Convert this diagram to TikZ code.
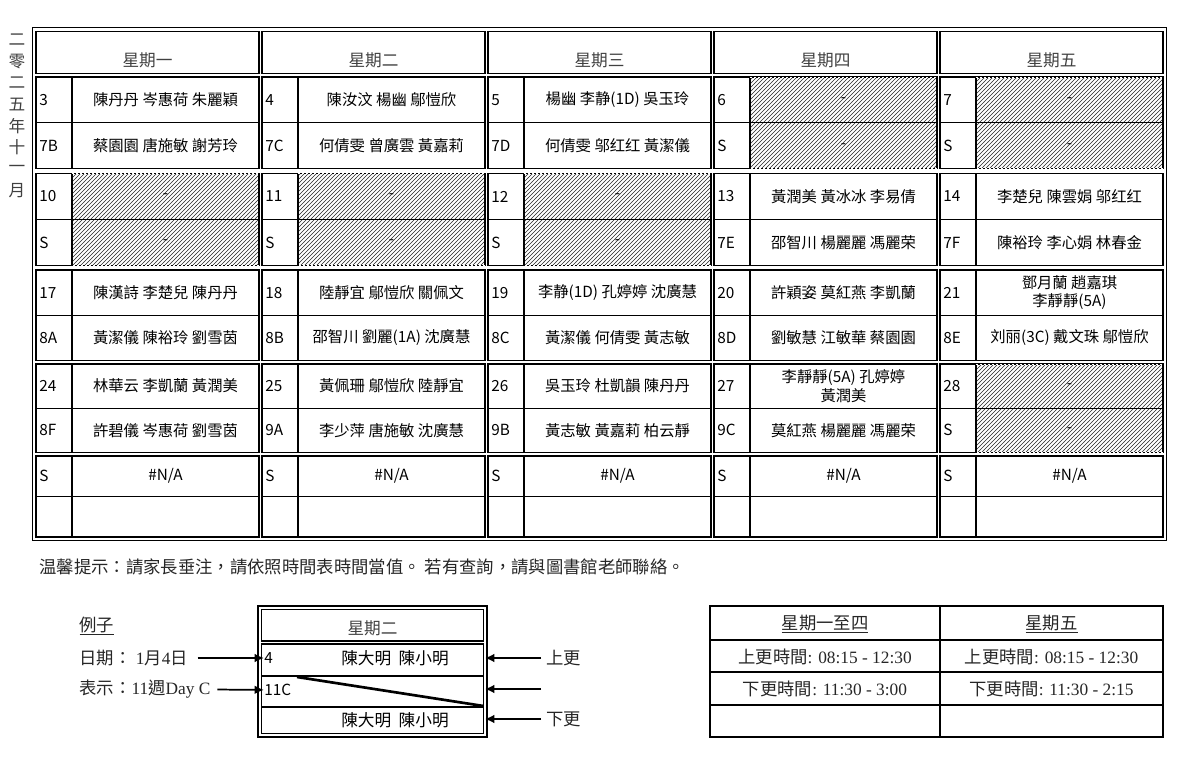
\documentclass[tikz,border=0pt]{standalone}
\usepackage{fontspec}
\setmainfont{Liberation Serif}
\newfontfamily\hei{Noto Sans CJK TC}
\usetikzlibrary{patterns,arrows.meta}

\tikzset{
  daybox/.style={line width=1.2pt},
  hatchbox/.style={pattern=north east lines, pattern color=black!85},
  numline/.style={line width=2.2pt},
  rowline/.style={line width=0.9pt},
  celltxt/.style={font=\hei\fontsize{11.5}{14}\selectfont, align=center, inner sep=0pt},
  numtxt/.style={font=\hei\fontsize{11.5}{14}\selectfont, anchor=west, inner sep=0pt},
  hdtxt/.style={font=\hei\fontsize{12.5}{15}\selectfont, text=black!75},
  lbl/.style={font=\fontsize{13}{15}\selectfont, anchor=west, inner sep=1pt, text=black!85},
  tmtxt/.style={font=\fontsize{13}{15}\selectfont, text=black!85},
  arr/.style={line width=1.3pt, -{Latex[length=7pt,width=6.5pt]}},
}
% top and height of each week block
\def\wtop{{77,173.5,270,364,456}}
\def\wht{{91.5,92,90.5,88.5,81}}

\begin{document}
\begin{tikzpicture}[x=0.75pt,y=-0.75pt]
 \useasboundingbox (0,0) rectangle (1200,762);

 % year and month, down the left side
 \foreach \c [count=\i] in {二,零,二,五,年,十,一,月}
   \node[hdtxt] (yr\i) at (17,18.5+21.5*\i) {\c};

 % hatched (no duty) cells
 \foreach \dy/\wk in {3/0,4/0,0/1,1/1,2/1,4/3}{
   \pgfmathsetmacro\yt{\wtop[\wk]}
   \pgfmathsetmacro\hh{\wht[\wk]}
   \fill[hatchbox] (72+226*\dy,\yt) rectangle ++(187,\hh);
 }

 % table frame
 \draw[line width=0.8pt] (32.5,27.5) rectangle (1166.5,540.5);
 \foreach \dy in {0,...,4}{
   \draw[daybox] (36+226*\dy,31.5) rectangle ++(223,42);
   \foreach \wk in {0,...,4}{
     \pgfmathsetmacro\yt{\wtop[\wk]}
     \pgfmathsetmacro\hh{\wht[\wk]}
     \draw[daybox] (36+226*\dy,\yt) rectangle ++(223,\hh);
     \draw[rowline] (36+226*\dy,\yt+\hh/2) -- ++(223,0);
     \draw[numline] (72+226*\dy,\yt) -- ++(0,\hh);
   }
 }
 \foreach \dy/\wk in {3/0,4/0,0/1,1/1,2/1,4/3}{
   \pgfmathsetmacro\yt{\wtop[\wk]}
   \pgfmathsetmacro\hh{\wht[\wk]}
   \draw[white, line width=0.5pt, dash pattern=on 1.5pt off 1.5pt]
     (72+226*\dy,\yt) -- ++(187,0) ++(0,\hh) -- ++(-187,0);
 }

 \foreach \dy/\nm in {0/一,1/二,2/三,3/四,4/五}
   \node[hdtxt] (hd\dy) at (147.5+226*\dy,60) {星期\nm};

 % duty list: day/week/row/date/names
 \foreach \dy/\wk/\rw/\lb/\nm in {
   0/0/0/3/{陳丹丹 岑惠荷 朱麗穎}, 1/0/0/4/{陳汝汶 楊幽 鄔愷欣},
   2/0/0/5/{楊幽 李静(1D) 吳玉玲}, 3/0/0/6/-, 4/0/0/7/-,
   0/0/1/7B/{蔡園園 唐施敏 謝芳玲}, 1/0/1/7C/{何倩雯 曾廣雲 黃嘉莉},
   2/0/1/7D/{何倩雯 邬红红 黃潔儀}, 3/0/1/S/-, 4/0/1/S/-,
   0/1/0/10/-, 1/1/0/11/-, 2/1/0/12/-,
   3/1/0/13/{黃潤美 黃冰冰 李易倩}, 4/1/0/14/{李楚兒 陳雲娟 邬红红},
   0/1/1/S/-, 1/1/1/S/-, 2/1/1/S/-,
   3/1/1/7E/{邵智川 楊麗麗 馮麗荣}, 4/1/1/7F/{陳裕玲 李心娟 林春金},
   0/2/0/17/{陳漢詩 李楚兒 陳丹丹}, 1/2/0/18/{陸靜宜 鄔愷欣 關佩文},
   2/2/0/19/{李静(1D) 孔婷婷 沈廣慧}, 3/2/0/20/{許穎姿 莫紅燕 李凱蘭},
   4/2/0/21/{鄧月蘭 趙嘉琪\\李靜靜(5A)},
   0/2/1/8A/{黃潔儀 陳裕玲 劉雪茵}, 1/2/1/8B/{邵智川 劉麗(1A) 沈廣慧},
   2/2/1/8C/{黃潔儀 何倩雯 黃志敏}, 3/2/1/8D/{劉敏慧 江敏華 蔡園園},
   4/2/1/8E/{刘丽(3C) 戴文珠 鄔愷欣},
   0/3/0/24/{林華云 李凱蘭 黃潤美}, 1/3/0/25/{黃佩珊 鄔愷欣 陸靜宜},
   2/3/0/26/{吳玉玲 杜凱韻 陳丹丹}, 3/3/0/27/{李靜靜(5A) 孔婷婷\\黃潤美},
   4/3/0/28/-,
   0/3/1/8F/{許碧儀 岑惠荷 劉雪茵}, 1/3/1/9A/{李少萍 唐施敏 沈廣慧},
   2/3/1/9B/{黃志敏 黃嘉莉 柏云靜}, 3/3/1/9C/{莫紅燕 楊麗麗 馮麗荣},
   4/3/1/S/-,
   0/4/0/S/{\#N/A}, 1/4/0/S/{\#N/A}, 2/4/0/S/{\#N/A}, 3/4/0/S/{\#N/A}, 4/4/0/S/{\#N/A}}{
   \pgfmathsetmacro\yt{\wtop[\wk]}
   \pgfmathsetmacro\hh{\wht[\wk]}
   \node[numtxt] (n\dy\wk\rw) at (39+226*\dy,\yt+\hh/4+\rw*\hh/2) {\lb};
   \node[celltxt] (c\dy\wk\rw) at (165.5+226*\dy,\yt+\hh/4+\rw*\hh/2) {\nm};
 }

 \node[lbl] (note) at (38,567) {\hei 温馨提示：請家長垂注，請依照時間表時間當值。 若有查詢，請與圖書館老師聯絡。};

 % example
 \node[lbl] (ex) at (78,626) {\underline{\hei 例子}};
 \node[lbl] (date) at (78,658) {{\hei 日期：}\ 1{\hei 月}4{\hei 日}};
 \node[lbl] (wkday) at (78,689) {{\hei 表示：}11{\hei 週}Day C};

 \draw[line width=0.8pt] (258,606) rectangle (487,737);
 \draw[daybox] (261.5,609.5) rectangle (483.5,641);
 \draw[daybox] (261.5,644) rectangle (483.5,733.5);
 \draw[rowline] (261.5,676) -- (483.5,676);
 \draw[rowline] (261.5,707) -- (483.5,707);
 \draw[line width=2pt] (297,677) -- (483.5,706);
 \node[hdtxt] (exhd) at (372.5,628) {星期二};
 \node[numtxt] (ex4) at (264,658) {4};
 \node[numtxt] (ex11c) at (264,690) {11C};
 \node[celltxt, font=\hei\fontsize{12.5}{15}\selectfont] (exup) at (395,658) {陳大明\ \ 陳小明};
 \node[celltxt, font=\hei\fontsize{12.5}{15}\selectfont] (exdn) at (395,720) {陳大明\ \ 陳小明};

 \coordinate (exr1) at (485,658);
 \coordinate (exr2) at (485,689);
 \coordinate (exr3) at (485,719);
 \coordinate (midtail) at (541,689);
 \node[lbl] (shup) at (545,658) {\hei 上更};
 \node[lbl] (shdn) at (545,719) {\hei 下更};

 \draw[arr, shorten <=6pt] (date) -- (ex4);
 \draw[arr, shorten <=4pt] (wkday) -- (ex11c);
 \draw[arr, shorten <=3pt] (shup) -- (exr1);
 \draw[arr] (midtail) -- (exr2);
 \draw[arr, shorten <=3pt] (shdn) -- (exr3);

 % shift times
 \draw[line width=1pt] (710,606) rectangle (1163,737);
 \draw[line width=1pt] (940,606) -- (940,737);
 \foreach \y in {640,672,705}
   \draw[line width=1pt] (710,\y) -- (1163,\y);
 \node[tmtxt] (tmhdA) at (825,624) {\underline{\hei 星期一至四}};
 \node[tmtxt] (tmhdB) at (1051.5,624) {\underline{\hei 星期五}};
 \node[tmtxt] (tmupA) at (825,657) {{\hei 上更時間}: 08:15 - 12:30};
 \node[tmtxt] (tmupB) at (1051.5,657) {{\hei 上更時間}: 08:15 - 12:30};
 \node[tmtxt] (tmdnA) at (825,689) {{\hei 下更時間}: 11:30 - 3:00};
 \node[tmtxt] (tmdnB) at (1051.5,689) {{\hei 下更時間}: 11:30 - 2:15};

\end{tikzpicture}
\end{document}
